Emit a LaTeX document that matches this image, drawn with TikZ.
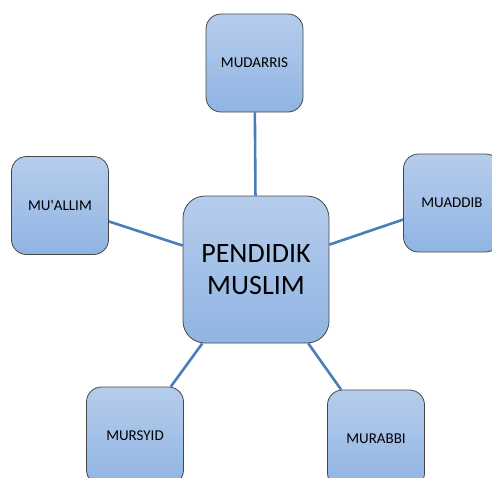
\documentclass[tikz,border=0pt]{standalone}
\usepackage{fontspec}
\setmainfont[Ligatures=TeXOff]{Carlito}
\usetikzlibrary{backgrounds}
\definecolor{boxtop}{RGB}{182,205,236}
\definecolor{boxbot}{RGB}{144,180,226}
\definecolor{boxline}{RGB}{70,70,70}
\definecolor{conn}{RGB}{74,126,187}
\tikzset{
  smallbox/.style={draw=boxline, line width=0.8pt, rounded corners=15pt,
    top color=boxtop, bottom color=boxbot, minimum width=97pt, minimum height=98pt,
    inner sep=0pt, font=\fontsize{15}{18}\selectfont, align=center},
  bigbox/.style={draw=boxline, line width=0.8pt, rounded corners=22pt,
    top color=boxtop, bottom color=boxbot, minimum width=146pt, minimum height=147pt,
    inner sep=0pt, font=\fontsize{28}{32}\selectfont, align=center},
  connector/.style={draw=conn, line width=2.6pt}
}
\begin{document}
\begin{tikzpicture}[x=1pt,y=-1pt]
\useasboundingbox (0,0) rectangle (492,477);
\node[bigbox] (c) at (256,269.5) {PENDIDIK\\MUSLIM};
\node[smallbox] (mudarris) at (254.5,63) {MUDARRIS};
\node[smallbox] (muallim) at (60,205.5) {MU'ALLIM};
\node[smallbox] (muaddib) at (452,203) {MUADDIB};
\node[smallbox] (mursyid) at (135,436) {MURSYID};
\node[smallbox] (murabbi) at (376,439) {MURABBI};
\begin{scope}[on background layer]
\draw[connector] (c) -- (mudarris);
\draw[connector] (c) -- (muallim);
\draw[connector] (c) -- (muaddib);
\draw[connector] (c) -- (mursyid);
\draw[connector] (c) -- (murabbi);
\end{scope}
\end{tikzpicture}
\end{document}
